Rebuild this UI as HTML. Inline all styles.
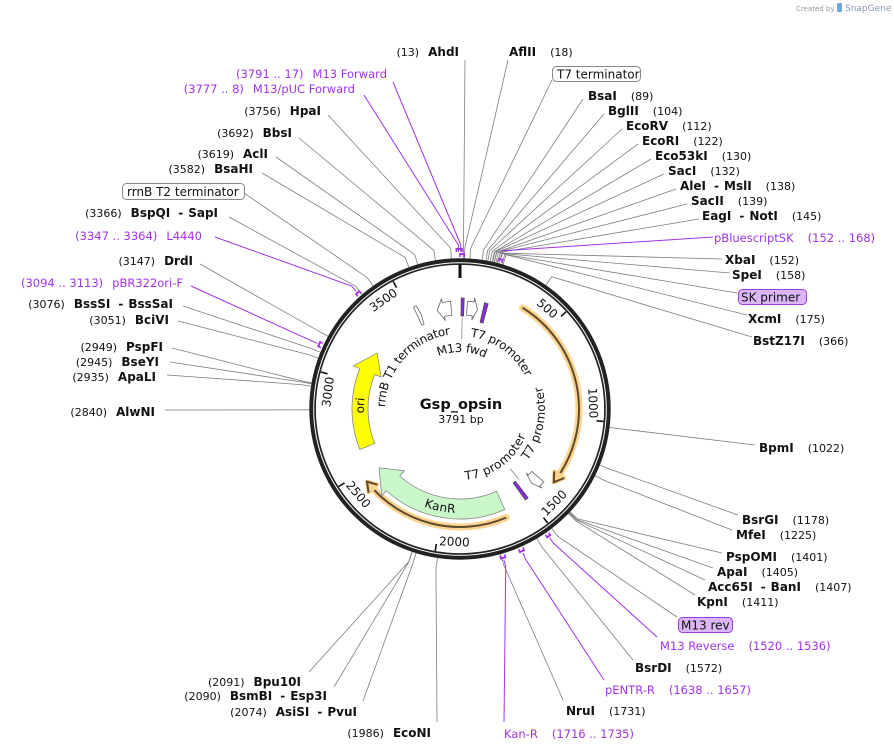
<!DOCTYPE html>
<html><head><meta charset="utf-8">
<style>
html,body{margin:0;padding:0;background:#fff;}
svg{display:block;}
text{font-family:"DejaVu Sans","Liberation Sans",sans-serif;font-size:11px;fill:#111;}
.b{font-weight:bold;font-size:12px;}
.p{fill:#a033e6;font-size:11.5px;}
.f{font-size:12px;fill:#111;}
.tk{font-size:12px;fill:#111;}
</style></head>
<body>
<svg id="s" width="894" height="752" viewBox="0 0 894 752" xmlns="http://www.w3.org/2000/svg">
<defs>
<path id="p_rrnb" d=""/>
<path id="p_m13" d=""/>
<path id="p_t7a" d=""/>
<path id="p_t7b" d=""/>
<path id="p_t7c" d=""/>
<path id="p_kan" d=""/>
<path id="p_ori" d=""/>
</defs>
<g id="lines"></g>
<g id="ring"></g>
<g id="feat"></g>

<!-- header -->
<text x="796" y="11" style="font-size:7px;fill:#999">Created by</text>
<text x="845" y="11" style="font-size:9px;fill:#8a9bb0">SnapGene</text>
<rect x="837" y="3" width="5" height="9" rx="1" fill="#6fa8dc"/>

<!-- center -->
<text x="461" y="409" text-anchor="middle" style="font-weight:bold;font-size:14.5px">Gsp_opsin</text>
<text x="461" y="423" text-anchor="middle">3791 bp</text>

<!-- inner feature labels -->
<text class="f" dominant-baseline="central"><textPath href="#p_rrnb" startOffset="50%" text-anchor="middle">rrnB T1 terminator</textPath></text>
<text class="f" dominant-baseline="central"><textPath href="#p_m13" startOffset="50%" text-anchor="middle">M13 fwd</textPath></text>
<text class="f" dominant-baseline="central"><textPath href="#p_t7a" startOffset="50%" text-anchor="middle">T7 promoter</textPath></text>
<text class="f" dominant-baseline="central"><textPath href="#p_t7b" startOffset="50%" text-anchor="middle">T7 promoter</textPath></text>
<text class="f" dominant-baseline="central"><textPath href="#p_t7c" startOffset="50%" text-anchor="middle">T7 promoter</textPath></text>
<text class="f" dominant-baseline="central"><textPath href="#p_kan" startOffset="50%" text-anchor="middle">KanR</textPath></text>
<text class="f" dominant-baseline="central"><textPath href="#p_ori" startOffset="50%" text-anchor="middle">ori</textPath></text>

<!-- tick labels -->
<text class="tk" id="t500" text-anchor="middle" dominant-baseline="central">500</text>
<text class="tk" id="t1000" text-anchor="middle" dominant-baseline="central">1000</text>
<text class="tk" id="t1500" text-anchor="middle" dominant-baseline="central">1500</text>
<text class="tk" id="t2000" text-anchor="middle" dominant-baseline="central">2000</text>
<text class="tk" id="t2500" text-anchor="middle" dominant-baseline="central">2500</text>
<text class="tk" id="t3000" text-anchor="middle" dominant-baseline="central">3000</text>
<text class="tk" id="t3500" text-anchor="middle" dominant-baseline="central">3500</text>

<!-- boxes -->
<rect x="552.5" y="66.5" width="88" height="15" rx="4" fill="#fff" stroke="#888"/>
<text class="f" x="557" y="78.5">T7 terminator</text>
<rect x="122.5" y="183.5" width="122" height="16" rx="4" fill="#fff" stroke="#888"/>
<text class="f" x="127" y="196">rrnB T2 terminator</text>
<rect x="738.5" y="289.5" width="68" height="15" rx="4" fill="#dcb6f7" stroke="#9a3fd6"/>
<text class="f" x="741" y="301.5">SK primer</text>
<rect x="678.5" y="617.5" width="54" height="15" rx="4" fill="#dcb6f7" stroke="#9a3fd6"/>
<text class="f" x="681" y="629.5">M13 rev</text>

<!-- left labels -->
<text x="459" y="56" text-anchor="end">(13)<tspan class="b" dx="9">AhdI</tspan></text>
<text class="p" x="387" y="78" text-anchor="end">(3791 .. 17)<tspan dx="9">M13 Forward</tspan></text>
<text class="p" x="355" y="93" text-anchor="end">(3777 .. 8)<tspan dx="9">M13/pUC Forward</tspan></text>
<text x="321" y="115" text-anchor="end">(3756)<tspan class="b" dx="9">HpaI</tspan></text>
<text x="292" y="137" text-anchor="end">(3692)<tspan class="b" dx="9">BbsI</tspan></text>
<text x="268" y="158" text-anchor="end">(3619)<tspan class="b" dx="9">AclI</tspan></text>
<text x="253" y="173" text-anchor="end">(3582)<tspan class="b" dx="9">BsaHI</tspan></text>
<text x="218" y="217" text-anchor="end">(3366)<tspan class="b" dx="9">BspQI</tspan><tspan class="b" dx="8">-</tspan><tspan class="b" dx="5">SapI</tspan></text>
<text class="p" x="202" y="240" text-anchor="end">(3347 .. 3364)<tspan dx="9">L4440</tspan></text>
<text x="193" y="265" text-anchor="end">(3147)<tspan class="b" dx="9">DrdI</tspan></text>
<text class="p" x="183" y="287" text-anchor="end">(3094 .. 3113)<tspan dx="9">pBR322ori-F</tspan></text>
<text x="173" y="308" text-anchor="end">(3076)<tspan class="b" dx="9">BssSI</tspan><tspan class="b" dx="8">-</tspan><tspan class="b" dx="5">BssSaI</tspan></text>
<text x="169" y="324" text-anchor="end">(3051)<tspan class="b" dx="9">BciVI</tspan></text>
<text x="163" y="351" text-anchor="end">(2949)<tspan class="b" dx="9">PspFI</tspan></text>
<text x="159" y="366" text-anchor="end">(2945)<tspan class="b" dx="9">BseYI</tspan></text>
<text x="156" y="381" text-anchor="end">(2935)<tspan class="b" dx="9">ApaLI</tspan></text>
<text x="155" y="416" text-anchor="end">(2840)<tspan class="b" dx="9">AlwNI</tspan></text>
<text x="301" y="686" text-anchor="end">(2091)<tspan class="b" dx="9">Bpu10I</tspan></text>
<text x="327" y="700" text-anchor="end">(2090)<tspan class="b" dx="9">BsmBI</tspan><tspan class="b" dx="8">-</tspan><tspan class="b" dx="5">Esp3I</tspan></text>
<text x="357" y="716" text-anchor="end">(2074)<tspan class="b" dx="9">AsiSI</tspan><tspan class="b" dx="8">-</tspan><tspan class="b" dx="5">PvuI</tspan></text>
<text x="431" y="737" text-anchor="end">(1986)<tspan class="b" dx="9">EcoNI</tspan></text>

<!-- right labels -->
<text x="509" y="56"><tspan class="b">AflII</tspan><tspan dx="14">(18)</tspan></text>
<text x="588" y="100"><tspan class="b">BsaI</tspan><tspan dx="14">(89)</tspan></text>
<text x="608" y="115"><tspan class="b">BglII</tspan><tspan dx="14">(104)</tspan></text>
<text x="626" y="130"><tspan class="b">EcoRV</tspan><tspan dx="14">(112)</tspan></text>
<text x="642" y="145"><tspan class="b">EcoRI</tspan><tspan dx="14">(122)</tspan></text>
<text x="655" y="160"><tspan class="b">Eco53kI</tspan><tspan dx="14">(130)</tspan></text>
<text x="668" y="175"><tspan class="b">SacI</tspan><tspan dx="14">(132)</tspan></text>
<text x="680" y="190"><tspan class="b">AleI</tspan><tspan class="b" dx="8">-</tspan><tspan class="b" dx="5">MslI</tspan><tspan dx="14">(138)</tspan></text>
<text x="691" y="205"><tspan class="b">SacII</tspan><tspan dx="14">(139)</tspan></text>
<text x="702" y="220"><tspan class="b">EagI</tspan><tspan class="b" dx="8">-</tspan><tspan class="b" dx="5">NotI</tspan><tspan dx="14">(145)</tspan></text>
<text class="p" x="714" y="242">pBluescriptSK<tspan dx="14">(152 .. 168)</tspan></text>
<text x="725" y="264"><tspan class="b">XbaI</tspan><tspan dx="14">(152)</tspan></text>
<text x="732" y="279"><tspan class="b">SpeI</tspan><tspan dx="14">(158)</tspan></text>
<text x="748" y="323"><tspan class="b">XcmI</tspan><tspan dx="14">(175)</tspan></text>
<text x="753" y="345"><tspan class="b">BstZ17I</tspan><tspan dx="14">(366)</tspan></text>
<text x="759" y="452"><tspan class="b">BpmI</tspan><tspan dx="14">(1022)</tspan></text>
<text x="742" y="524"><tspan class="b">BsrGI</tspan><tspan dx="14">(1178)</tspan></text>
<text x="736" y="539"><tspan class="b">MfeI</tspan><tspan dx="14">(1225)</tspan></text>
<text x="726" y="561"><tspan class="b">PspOMI</tspan><tspan dx="14">(1401)</tspan></text>
<text x="717" y="576"><tspan class="b">ApaI</tspan><tspan dx="14">(1405)</tspan></text>
<text x="708" y="591"><tspan class="b">Acc65I</tspan><tspan class="b" dx="8">-</tspan><tspan class="b" dx="5">BanI</tspan><tspan dx="14">(1407)</tspan></text>
<text x="697" y="606"><tspan class="b">KpnI</tspan><tspan dx="14">(1411)</tspan></text>
<text class="p" x="660" y="650">M13 Reverse<tspan dx="14">(1520 .. 1536)</tspan></text>
<text x="635" y="672"><tspan class="b">BsrDI</tspan><tspan dx="14">(1572)</tspan></text>
<text class="p" x="605" y="694">pENTR-R<tspan dx="14">(1638 .. 1657)</tspan></text>
<text x="566" y="715"><tspan class="b">NruI</tspan><tspan dx="14">(1731)</tspan></text>
<text class="p" x="504" y="738">Kan-R<tspan dx="14">(1716 .. 1735)</tspan></text>
</svg>
<script>
(function(){
var NS="http://www.w3.org/2000/svg",CX=460,CY=409,N=3791;
function A(bp){return bp/N*360;}
function P(r,a){var t=a*Math.PI/180;return [CX+r*Math.sin(t),CY-r*Math.cos(t)];}
function f(p){return p[0].toFixed(2)+","+p[1].toFixed(2);}
function arc(r,a1,a2){var p1=P(r,a1),p2=P(r,a2);var lg=Math.abs(a2-a1)>180?1:0;var sw=a2>a1?1:0;return "M"+f(p1)+" A"+r+" "+r+" 0 "+lg+" "+sw+" "+f(p2);}
function el(g,tag,at){var e=document.createElementNS(NS,tag);for(var k in at)e.setAttribute(k,at[k]);document.getElementById(g).appendChild(e);return e;}
// connectors
var G="#7d7d7d",PU="#a033e6";
var cons=[
[13,465,60,G],[18,508,60,G],[40,552,80,G],[89,583,99,G],[104,604,114,G],[112,622,129,G],[122,638,144,G],
[130,651,159,G],[132,664,174,G],[138,676,189,G],[139,687,204,G],[145,699,219,G],[160,713,237,PU],
[152,722,259,G],[158,730,273,G],[170,737,293,G],[175,747,315,G],[366,752,337,G],[1022,755,445,G],
[1178,738,515,G],[1225,732,530,G],[1401,722,553,G],[1405,713,568,G],[1407,705,580,G],[1411,695,595,G],
[1500,677,617,G],[1528,657,637,PU],[1572,633,660,G],[1647,604,680,PU],[1731,563,700,G],[1725,504,722,PU],
[1986,437,722,G],[2074,363,701,G],[2090,334,687,G],[2091,309,672,G],
[2840,165,410,G],[2935,167,375,G],[2945,170,362,G],[2949,172,348,G],[3051,178,321,G],[3076,183,306,G],
[3103,191,286,PU],[3147,200,264,G],[3355,215,237,PU],[3366,229,217,G],[3420,244,193,G],[3582,262,173,G],
[3619,276,157,G],[3692,299,138,G],[3756,328,115,G],[3785,364,95,PU],[3,393,82,PU]];
cons.forEach(function(c){var a=A(c[0]);var isP=c[3]==PU;var p1=P(isP?157:150,a),p2=P(isP?164:161,a);
el("lines","polyline",{points:f(p1)+" "+f(p2)+" "+c[1]+","+c[2],fill:"none",stroke:c[3],"stroke-width":isP?1:0.8});});
// primer bars
var prim=[[3791-0.01,3808,155],[3777,3799,160],[152,168,155],[3347,3364,155],[3094,3113,155],[1520,1536,155],[1638,1657,155],[1716,1735,155]];
prim.forEach(function(q){var a1=A(q[0]),a2=A(q[1]);var r=q[2];
el("lines","path",{d:arc(r,a1,a2),fill:"none",stroke:PU,"stroke-width":2});
el("lines","path",{d:"M"+f(P(r-3,a1))+" L"+f(P(r+1,a1))+" M"+f(P(r-3,a2))+" L"+f(P(r+1,a2)),stroke:PU,"stroke-width":1.5});});
// ring
el("ring","circle",{cx:CX,cy:CY,r:147.4,fill:"none",stroke:"#222","stroke-width":6.6});
el("ring","circle",{cx:CX,cy:CY,r:146.3,fill:"none",stroke:"#fff","stroke-width":1});
el("ring","path",{d:"M"+f(P(145,0))+" L"+f(P(131,0)),stroke:"#111","stroke-width":3});
[500,1000,1500,2000,2500,3000,3500].forEach(function(b){var a=A(b);
el("ring","path",{d:"M"+f(P(144,a))+" L"+f(P(137,a)),stroke:"#111","stroke-width":1.6});
var d=b==500?6.5:7.5;var aa=a-d;var p=P(133,aa);var rot=aa;if(rot>90&&rot<270)rot-=180;
var t=document.getElementById("t"+b);t.setAttribute("transform","translate("+f(p)+") rotate("+rot.toFixed(1)+")");});
// orange arcs
function orange(r,a1,a2){
el("feat","path",{d:arc(r,a1,a2),fill:"none",stroke:"#fcd38f","stroke-width":7,"stroke-linecap":"round"});
el("feat","path",{d:arc(r,a1,a2),fill:"none",stroke:"#5c4a30","stroke-width":2});
var dir=a2>a1?1:-1;var tip=P(r,a2+dir*1);var b1=P(r-6,a2-dir*3.5),b2=P(r+6,a2-dir*3.5);
el("feat","polygon",{points:f(b1)+" "+f(tip)+" "+f(b2),fill:"#fcd38f",stroke:"#fcd38f","stroke-width":4,"stroke-linejoin":"round"});
el("feat","polyline",{points:f(b1)+" "+f(tip)+" "+f(b2),fill:"none",stroke:"#5c4a30","stroke-width":2});}
orange(119,31.7,127);
orange(118,157,231);
// block arrows
function barrow(r1,r2,a1,a2,ah,hr1,hr2,fill,stroke){
var dir=a2>a1?1:-1;
var d="M"+f(P(r2,a1))+" "+arc(r2,a1,ah).replace(/^M[^A]*/,"")+" L"+f(P(hr2,ah))+" L"+f(P((r1+r2)/2,a2))+" L"+f(P(hr1,ah))+" L"+f(P(r1,ah))+" "+arc(r1,ah,a1).replace(/^M[^A]*/,"")+" Z";
el("feat","path",{d:d,fill:fill,stroke:stroke,"stroke-width":0.8});}
barrow(90,110,156,234,222,83,117,"#c9f7c9","#888");
barrow(92,108,248,304,292,85,115,"#ffff00","#888");
// small features
barrow(94,108,-5,-13,-9.5,90,112,"#fff","#666");
barrow(94,108,4,10,7.5,90,112,"#fff","#666");
barrow(92,112,-24.5,-22.3,-23,92,112,"#fff","#666");
barrow(95,111,131,136,134,92,114,"#fff","#666");
function pbar(r1,r2,a1,a2){el("feat","path",{d:"M"+f(P(r1,a1))+" L"+f(P(r2,a1))+" L"+f(P(r2,a2))+" L"+f(P(r1,a2))+" Z",fill:"#8a2be2",stroke:"#444","stroke-width":0.7});}
pbar(93,111,0.6,2.2);pbar(89,109,13,15);pbar(91,112,142.5,144.3);
el("feat","path",{d:"M"+f(P(91,1.4))+" L"+f(P(70,1.4)),stroke:"#888","stroke-width":0.8});
el("feat","path",{d:"M"+f(P(92,140))+" L"+f(P(78,140)),stroke:"#888","stroke-width":0.8});
// text paths
function setp(id,r,a1,a2){document.getElementById(id).setAttribute("d",arc(r,a1,a2));}
setp("p_rrnb",79,230,394);
setp("p_m13",61,-40,44);
setp("p_t7a",77,-10,82);
setp("p_t7b",81,150,52);
setp("p_t7c",67,190,98);
setp("p_kan",100,240,143);
setp("p_ori",100,222,322);
})();
</script>
</body></html>
